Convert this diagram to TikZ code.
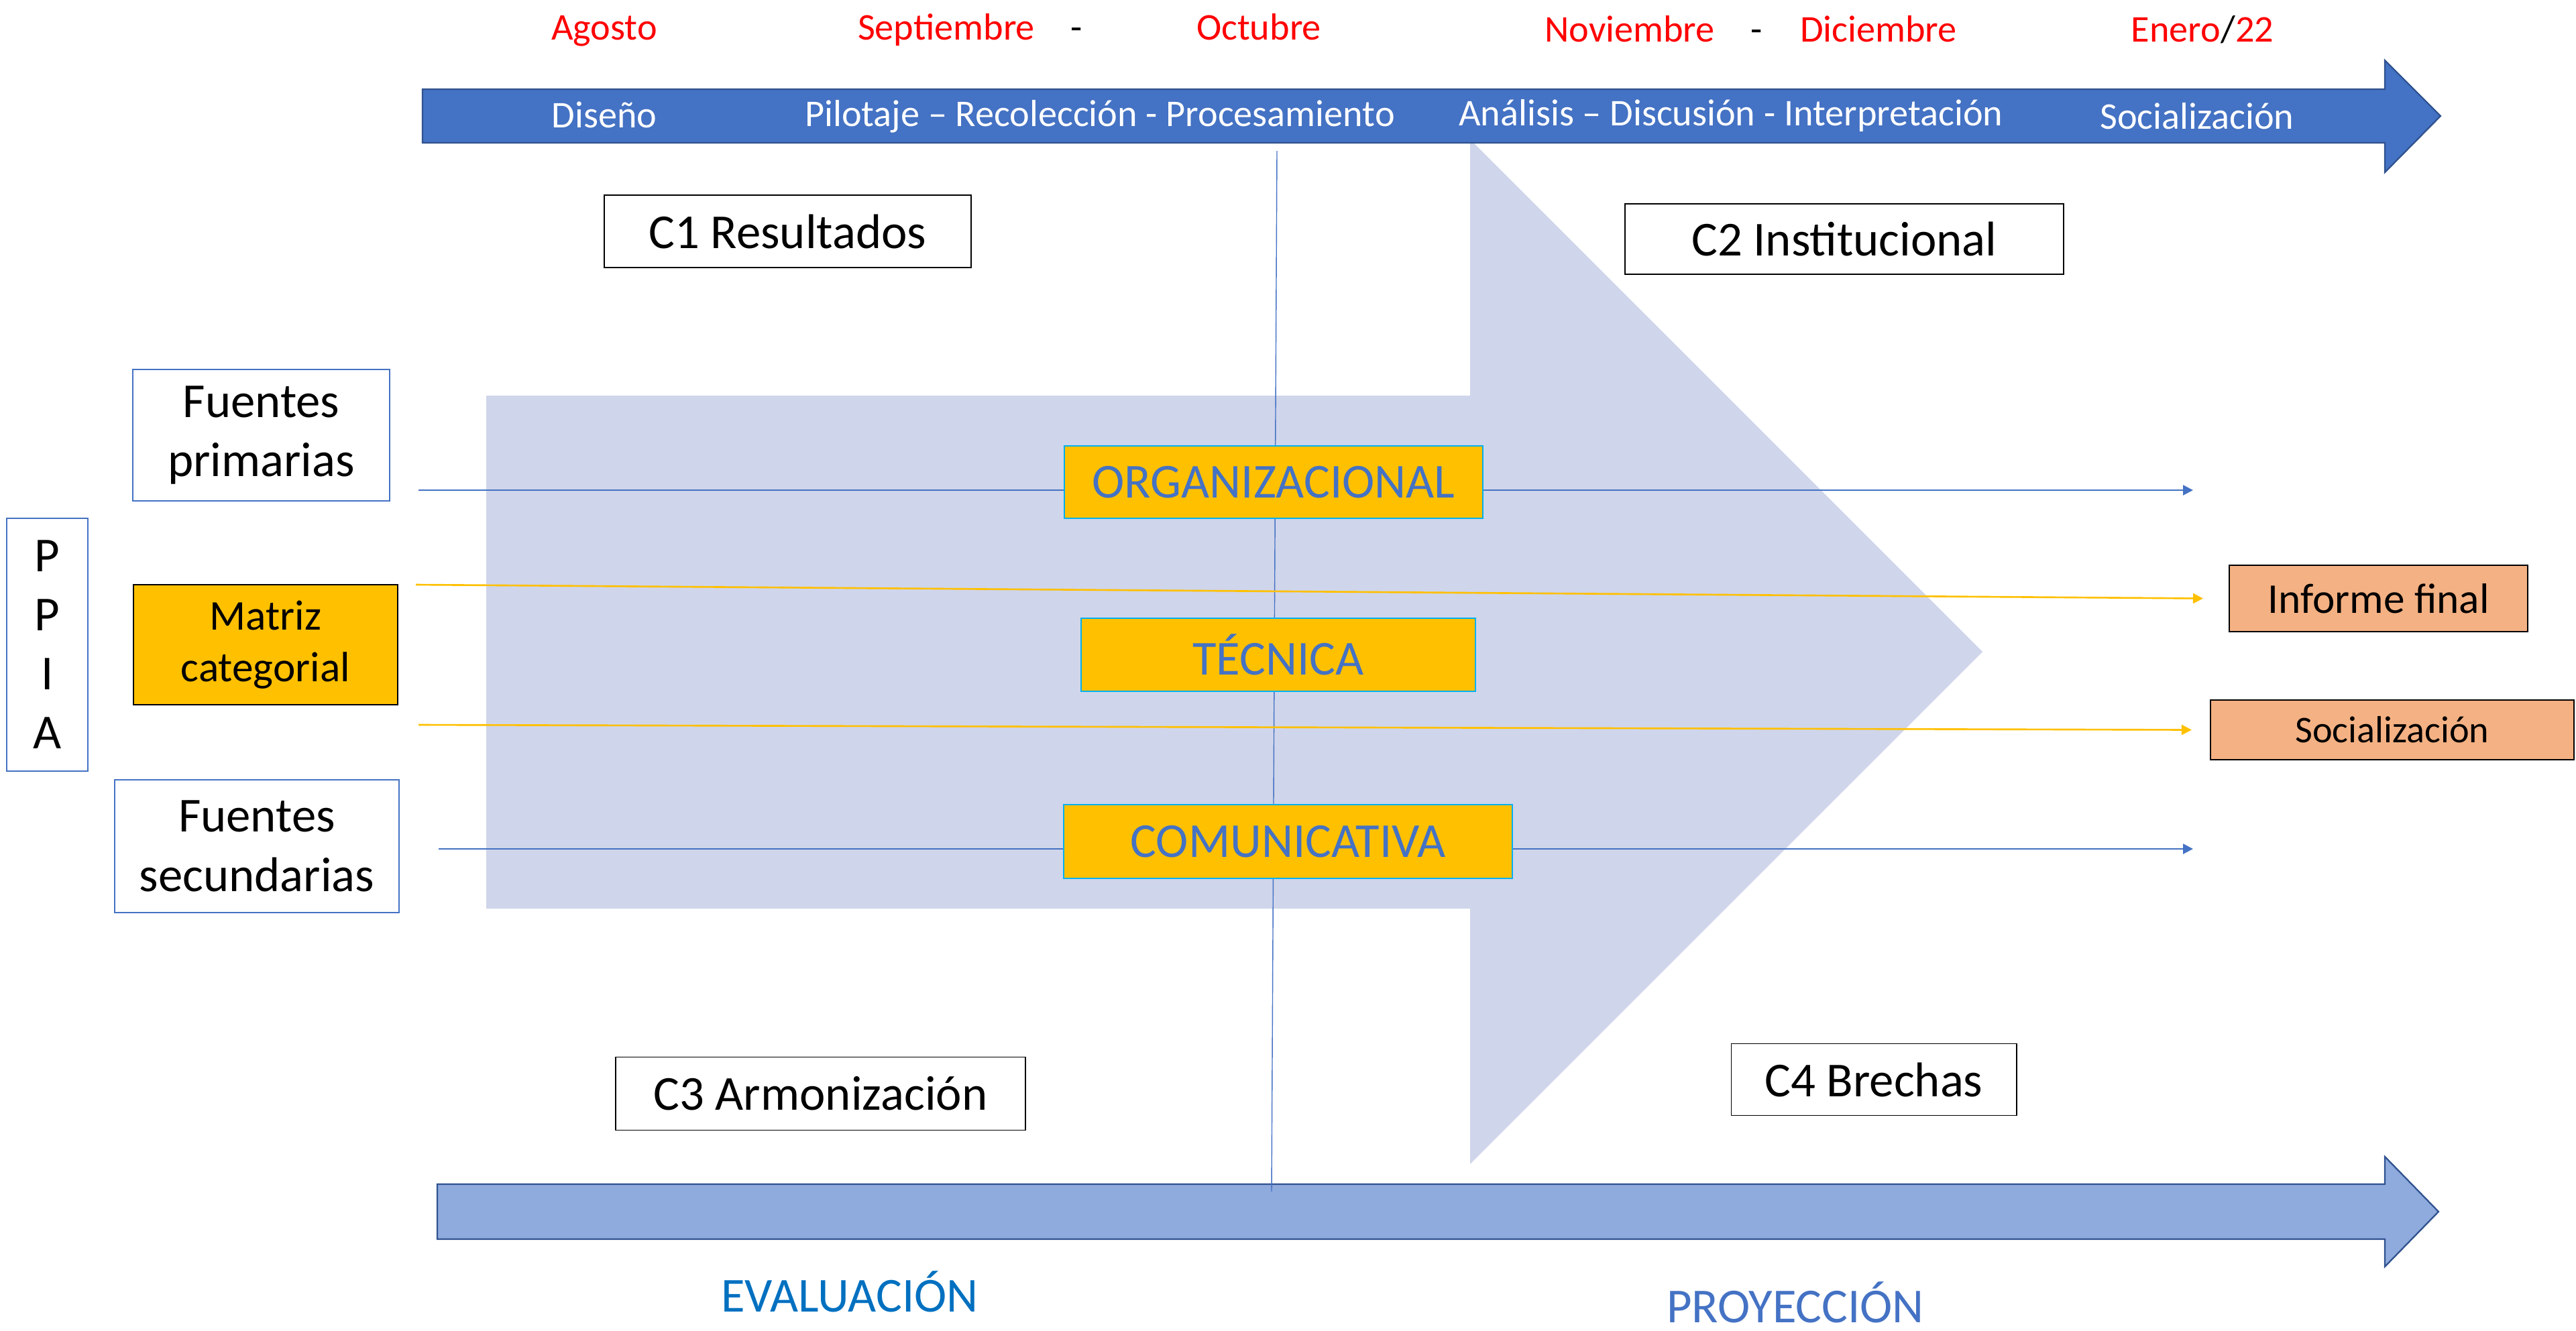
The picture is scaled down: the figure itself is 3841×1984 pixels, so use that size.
\documentclass[tikz,border=0pt]{standalone}
\usepackage{fontspec}
\setmainfont{Carlito}
\usepackage{xcolor}
\usetikzlibrary{arrows.meta,positioning,calc}
\definecolor{blu}{HTML}{4472C4}
\definecolor{dblu}{HTML}{2F528F}
\definecolor{lblu}{HTML}{8FAADC}
\definecolor{pale}{HTML}{CFD5EA}
\definecolor{gold}{HTML}{FFC000}
\definecolor{peach}{HTML}{F4B183}
\definecolor{cyn}{HTML}{00B0F0}
\definecolor{evblue}{HTML}{0070C0}
\definecolor{rd}{HTML}{FF0000}
\tikzset{
  big/.style = {font = \fontsize{20.7}{25.3}\selectfont},
  mid/.style = {font = \fontsize{18}{22}\selectfont},
  sml/.style = {font = \fontsize{16}{19.5}\selectfont},
  box/.style = {draw, inner sep = 0pt, line width = 0.5pt, align = center},
  srcbox/.style = {box, draw = blu, fill = white, big},
  dimbox/.style = {box, draw = cyn, fill = gold, text = blu, big},
  outbox/.style = {box, draw = black, fill = peach},
  catbox/.style = {box, draw = black, fill = white, big},
  month/.style = {anchor = base, inner sep = 0pt, sml, text = rd},
  phase/.style = {anchor = base, inner sep = 0pt, sml, text = white},
  flow/.style = {line width = 0.75pt, -{Triangle[length = 0.15cm, width = 0.15cm]}},
  bararrow/.style = {draw = dblu, line width = 0.65pt}
}

\begin{document}
\begin{tikzpicture}[x = 0.01cm, y = -0.01cm]
  \useasboundingbox (0,0) rectangle (3841,1984);
  \fill[pale] (725,590) -- (2192,590) -- (2192,208) -- (2956,972) -- (2192,1736) -- (2192,1355) -- (725,1355) -- cycle;
  \fill[blu, bararrow] (630,133) -- (3556,133) -- (3556,90) -- (3639,173) -- (3556,257) -- (3556,213) -- (630,213) -- cycle;
  \fill[lblu, bararrow] (652,1766) -- (3556,1766) -- (3556,1725) -- (3636,1807) -- (3556,1889) -- (3556,1848) -- (652,1848) -- cycle;
  \draw[blu, line width = 0.4pt] (1904,225) -- (1896,1777);

  \node[month] (ago) at (901,59) {Agosto};
  \node[month] (sep) at (1411,59) {Septiembre};
  \node[month, text = black] (d1) at (1605,59) {-};
  \node[month] (oct) at (1877,59) {Octubre};
  \node[month] (nov) at (2430,62) {Noviembre};
  \node[month, text = black] (d2) at (2619,62) {-};
  \node[month] (dic) at (2801,62) {Diciembre};
  \node[month] (ene) at (3284,62) {Enero\textcolor{black}{/}22};

  \node[phase] (dis) at (901,190) {Diseño};
  \node[phase] (pil) at (1640,188) {Pilotaje – Recolección - Procesamiento};
  \node[phase] (ana) at (2581,187) {Análisis – Discusión - Interpretación};
  \node[phase] (so) at (3276,192) {Socialización};

  \node[catbox, minimum width = 5.47cm, minimum height = 1.08cm] (c1) at (1174.5,345) {C1 Resultados};
  \node[catbox, minimum width = 6.54cm, minimum height = 1.05cm] (c2) at (2750,356.5) {C2 Institucional};
  \node[catbox, minimum width = 6.11cm, minimum height = 1.09cm] (c3) at (1223.5,1631) {C3 Armonización};
  \node[catbox, minimum width = 4.25cm, minimum height = 1.07cm] (c4) at (2794,1610) {C4 Brechas};

  \node[srcbox, minimum width = 3.83cm, minimum height = 1.96cm] (fp) at (389.5,649) {Fuentes\\primarias};
  \node[box, fill = gold, mid, minimum width = 3.94cm, minimum height = 1.79cm] (mc) at (396,961.5) {Matriz\\categorial};
  \node[srcbox, minimum width = 4.24cm, minimum height = 1.98cm] (fs) at (383,1262) {Fuentes\\secundarias};
  \node[srcbox, font = \fontsize{20.7}{25}\selectfont, minimum width = 1.21cm, minimum height = 3.77cm] (ppia) at (70.5,961.5) {P\\P\\I\\A};

  \node[outbox, mid, minimum width = 4.45cm, minimum height = 0.99cm] (inf) at (3546.5,892.5) {Informe final};
  \node[outbox, sml, minimum width = 5.42cm, minimum height = 0.89cm] (soc) at (3567,1088.5) {Socialización};

  \coordinate (a1) at (624,731);
  \coordinate (b1) at (3270,731);
  \coordinate (a2) at (620,872);
  \coordinate (a3) at (624,1081);
  \coordinate (a4) at (654,1266);
  \coordinate (b4) at (3270,1266);
  \draw[flow, blu] (a1) -- (b1);
  \draw[flow, gold] (a2) -- ([xshift = -0.38cm]inf.west);
  \draw[flow, gold] (a3) -- ([xshift = -0.27cm]soc.west);
  \draw[flow, blu] (a4) -- (b4);

  \node[dimbox, minimum width = 6.23cm, minimum height = 1.08cm] (org) at (1899,719) {ORGANIZACIONAL};
  \node[dimbox, minimum width = 5.88cm, minimum height = 1.09cm] (tec) at (1906,976.5) {TÉCNICA};
  \node[dimbox, minimum width = 6.69cm, minimum height = 1.10cm] (com) at (1920.5,1255) {COMUNICATIVA};

  \node[anchor = base, inner sep = 0pt, big, text = evblue] (ev) at (1267,1956) {EVALUACIÓN};
  \node[anchor = base, inner sep = 0pt, big, text = blu] (pr) at (2677,1972) {PROYECCIÓN};
\end{tikzpicture}
\end{document}
